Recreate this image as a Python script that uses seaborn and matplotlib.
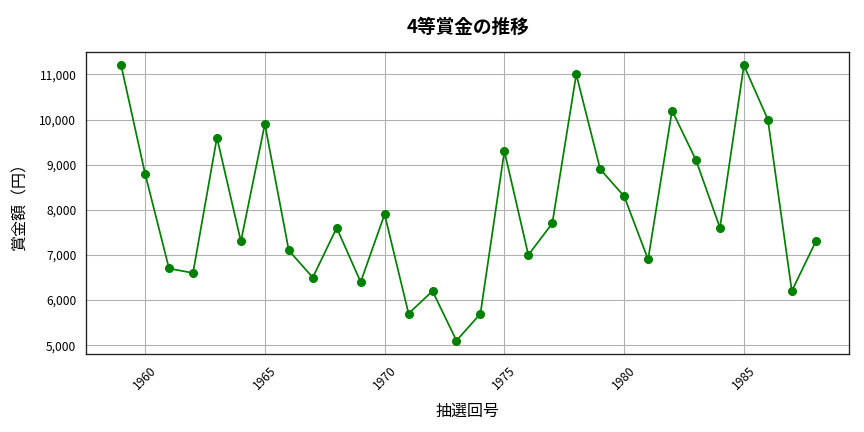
import matplotlib
matplotlib.use("Agg")
import matplotlib.pyplot as plt
import matplotlib.ticker as mticker
import seaborn as sns
import pandas as pd

years = [1959, 1960, 1961, 1962, 1963, 1964, 1965, 1966, 1967, 1968,
         1969, 1970, 1971, 1972, 1973, 1974, 1975, 1976, 1977, 1978,
         1979, 1980, 1981, 1982, 1983, 1984, 1985, 1986, 1987, 1988]
prizes = [11200, 8800, 6700, 6600, 9600, 7300, 9900, 7100, 6500, 7600,
          6400, 7900, 5700, 6200, 5100, 5700, 9300, 7000, 7700, 11000,
          8900, 8300, 6900, 10200, 9100, 7600, 11200, 10000, 6200, 7300]
title = "4等賞金の推移"
xlabel = "抽選回号"
ylabel = "賞金額（円）"

sns.set_style("white")
plt.rcParams['font.family'] = ['Noto Sans CJK JP', 'DejaVu Sans']
plt.rcParams['text.color'] = 'black'
plt.rcParams['axes.labelcolor'] = 'black'
plt.rcParams['xtick.color'] = 'black'
plt.rcParams['ytick.color'] = 'black'

df = pd.DataFrame({"year": years, "prize": prizes})
fig, ax = plt.subplots(figsize=(9, 4.5), dpi=96)
sns.lineplot(data=df, x="year", y="prize", ax=ax, color="green",
             marker="o", markersize=6, markeredgecolor="green", linewidth=1.3)
ax.grid(True, color="#b0b0b0", linewidth=0.8)
for s in ax.spines.values():
    s.set_color("#222222")
    s.set_linewidth(1.0)
ax.set_title(title, fontsize=14, fontweight="bold", pad=14, color="black")
ax.set_xlabel(xlabel, fontsize=12, labelpad=8)
ax.set_ylabel(ylabel, fontsize=12, labelpad=8)
ax.yaxis.set_major_formatter(mticker.StrMethodFormatter("{x:,.0f}"))
ax.xaxis.set_major_locator(mticker.MultipleLocator(5))
ax.tick_params(axis="x", rotation=45, labelsize=9, length=4)
ax.tick_params(axis="y", labelsize=9, length=4)
ax.set_xlim(1957.55, 1989.4)
ax.set_ylim(4800, 11500)
fig.subplots_adjust(left=0.1, right=0.983, top=0.88, bottom=0.18)
fig.savefig("out.png")
